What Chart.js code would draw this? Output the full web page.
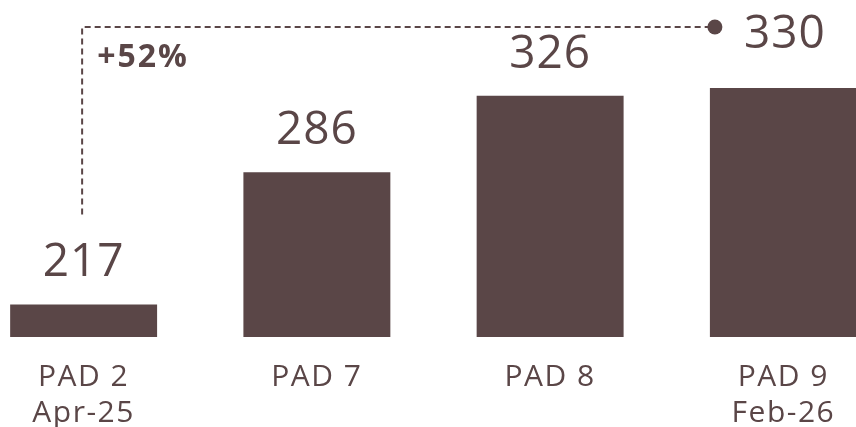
<!DOCTYPE html>
<html>
<head>
<meta charset="utf-8">
<script src="https://cdn.jsdelivr.net/npm/chart.js@4/dist/chart.umd.min.js"></script>
<style>
html,body{margin:0;padding:0;background:#fff;overflow:hidden;width:856px;height:427px;}
#wrap{position:absolute;left:-33px;top:0;width:933px;height:427px;}
</style>
</head>
<body>
<div id="wrap"><canvas id="c" width="933" height="427"></canvas></div>
<script>
const categories = [['PAD 2','Apr-25'], 'PAD 7', 'PAD 8', ['PAD 9','Feb-26']];
const values = [217, 286, 326, 330];
const growthLabel = '+52%';
const yMin = 200;
const yMax = 376;

const COLOR = '#5a4647';
const FONT = '"Open Sans", "Noto Sans", sans-serif';

const spacing = {
  id: 'spacing',
  beforeDraw(chart) { chart.ctx.letterSpacing = '1.5px'; },
  afterDraw(chart) { chart.ctx.letterSpacing = '0px'; }
};

const annotate = {
  id: 'annotate',
  afterDatasetsDraw(chart) {
    const ctx = chart.ctx;
    const meta = chart.getDatasetMeta(0);
    ctx.save();
    ctx.letterSpacing = '1px';
    ctx.fillStyle = COLOR;
    ctx.strokeStyle = COLOR;
    ctx.font = '400 46px ' + FONT;
    ctx.textAlign = 'center';
    ctx.textBaseline = 'alphabetic';
    for (let i = 0; i < values.length - 1; i++) {
      const el = meta.data[i];
      ctx.fillText(String(values[i]), el.x, el.y - 28);
    }
    const first = meta.data[0];
    const last = meta.data[values.length - 1];
    const lineY = 27;
    const dotX = last.x - last.width / 2 + 5;
    const vx = first.x - 1.5;
    ctx.setLineDash([6, 4]);
    ctx.lineWidth = 2;
    ctx.beginPath();
    ctx.moveTo(vx, first.y - 90);
    ctx.lineTo(vx, lineY);
    ctx.lineTo(dotX, lineY);
    ctx.stroke();
    ctx.setLineDash([]);
    ctx.beginPath();
    ctx.arc(dotX, lineY, 7.5, 0, Math.PI * 2);
    ctx.fill();
    ctx.textAlign = 'left';
    ctx.fillText(String(values[values.length - 1]), dotX + 29, 48);
    ctx.letterSpacing = '2px';
    ctx.font = 'bold 32px ' + FONT;
    ctx.fillText(growthLabel, vx + 15, 67);
    ctx.restore();
  }
};

new Chart(document.getElementById('c'), {
  type: 'bar',
  data: {
    labels: categories,
    datasets: [{
      data: values,
      backgroundColor: COLOR,
      borderWidth: 0,
      categoryPercentage: 1,
      barPercentage: 0.63
    }]
  },
  options: {
    responsive: false,
    animation: false,
    layout: { padding: 0 },
    plugins: { legend: { display: false }, tooltip: { enabled: false } },
    scales: {
      x: {
        grid: { display: false, drawTicks: false },
        border: { display: false },
        ticks: {
          color: COLOR,
          padding: 22,
          font: { family: FONT, size: 30, weight: 400, lineHeight: 1.2 }
        },
        afterFit(scale) { scale.height = 90; }
      },
      y: {
        display: false,
        min: yMin,
        max: yMax
      }
    }
  },
  plugins: [spacing, annotate]
});
</script>
</body>
</html>
